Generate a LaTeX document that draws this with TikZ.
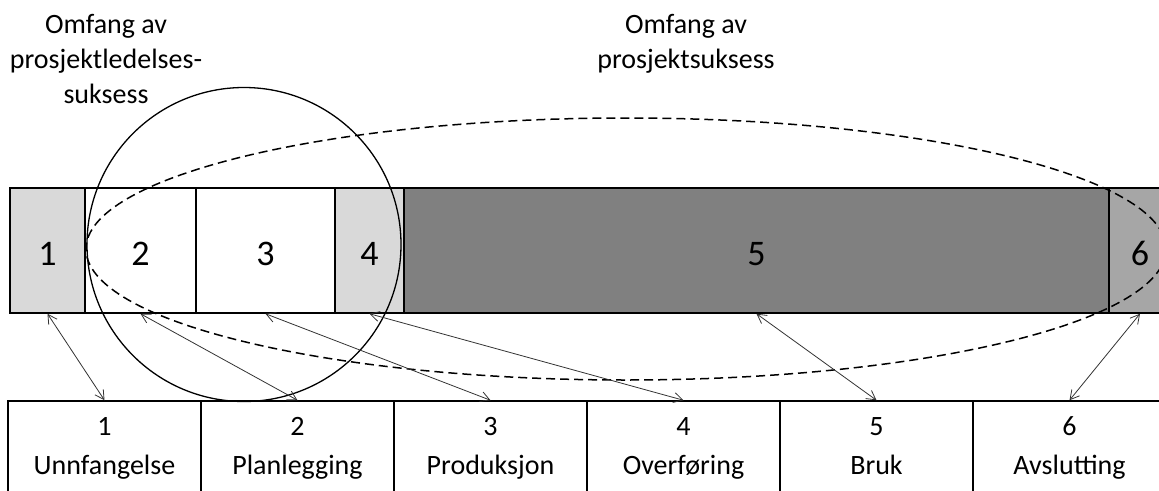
\documentclass[tikz,border=0pt]{standalone}
\usepackage{fontspec}
\setmainfont{Carlito}
\usetikzlibrary{shapes.geometric,arrows.meta}
\definecolor{lightcell}{HTML}{D9D9D9}
\definecolor{darkcell}{HTML}{808080}
\definecolor{midcell}{HTML}{A6A6A6}
\begin{document}
\begin{tikzpicture}[x=1pt,y=-1pt,
  cell/.style={draw, line width=1.5pt, minimum height=125pt, inner sep=0pt,
    text height=29pt, text depth=0pt, font=\fontsize{36}{43}\selectfont},
  phasebox/.style={draw, line width=1.5pt, minimum width=193pt, minimum height=119pt, inner sep=0pt},
  lbl/.style={anchor=base, inner sep=0pt, font=\fontsize{28}{34}\selectfont},
  link/.style={line width=0.8pt, draw=black!80,
    {Straight Barb[length=9pt,width=10pt]}-{Straight Barb[length=9pt,width=10pt]}}
]
\useasboundingbox (0,0) rectangle (1159,490);
\clip (0,0) rectangle (1159,490);

% titles
\node[lbl] (ta1) at (106,33) {Omfang av};
\node[lbl] (ta2) at (106,68) {prosjektledelses-};
\node[lbl] (ta3) at (106,103) {suksess};
\node[lbl] (tb1) at (686,33) {Omfang av};
\node[lbl] (tb2) at (686,68) {prosjektsuksess};

% life-cycle bar
\node[cell, fill=lightcell, minimum width=75pt]  (c1) at (47.5,250.5)  {1};
\node[cell, fill=white,     minimum width=111pt] (c2) at (140.5,250.5) {2};
\node[cell, fill=white,     minimum width=139pt] (c3) at (265.5,250.5) {3};
\node[cell, fill=lightcell, minimum width=69pt]  (c4) at (369.5,250.5) {4};
\node[cell, fill=darkcell,  minimum width=705pt] (c5) at (756.5,250.5) {5};
\node[cell, fill=midcell,   minimum width=62pt]  (c6) at (1140,250.5)  {6};

% phase boxes
\node[phasebox] (b1) at (104.5,460.5) {};
\node[phasebox] (b2) at (297.5,460.5) {};
\node[phasebox] (b3) at (490.5,460.5) {};
\node[phasebox] (b4) at (683.5,460.5) {};
\node[phasebox] (b5) at (876.5,460.5) {};
\node[phasebox] (b6) at (1069.5,460.5) {};

\node[lbl] (n1) at (104.5,435) {1};
\node[lbl] (w1) at (104.5,474) {Unnfangelse};
\node[lbl] (n2) at (297.5,435) {2};
\node[lbl] (w2) at (297.5,474) {Planlegging};
\node[lbl] (n3) at (490.5,435) {3};
\node[lbl] (w3) at (490.5,474) {Produksjon};
\node[lbl] (n4) at (683.5,435) {4};
\node[lbl] (w4) at (683.5,474) {Overføring};
\node[lbl] (n5) at (876.5,435) {5};
\node[lbl] (w5) at (876.5,474) {Bruk};
\node[lbl] (n6) at (1069.5,435) {6};
\node[lbl] (w6) at (1069.5,474) {Avslutting};

% scopes
\node[circle, draw, line width=1.3pt, minimum size=314pt, inner sep=0pt] (ring) at (244,244.5) {};
\node[ellipse, draw, line width=1.5pt, dash pattern=on 9pt off 5pt,
  minimum width=1080pt, minimum height=262pt, inner sep=0pt] (oval) at (626,249) {};

% links between bar cells and phases
\draw[link] (c1.south) -- (b1.north);
\draw[link] (c2.south) -- (b2.north);
\draw[link] (c3.south) -- (b3.north);
\draw[link] (c4.south) -- (b4.north);
\draw[link] (c5.south) -- (b5.north);
\draw[link] (c6.south) -- (b6.north);
\end{tikzpicture}
\end{document}
